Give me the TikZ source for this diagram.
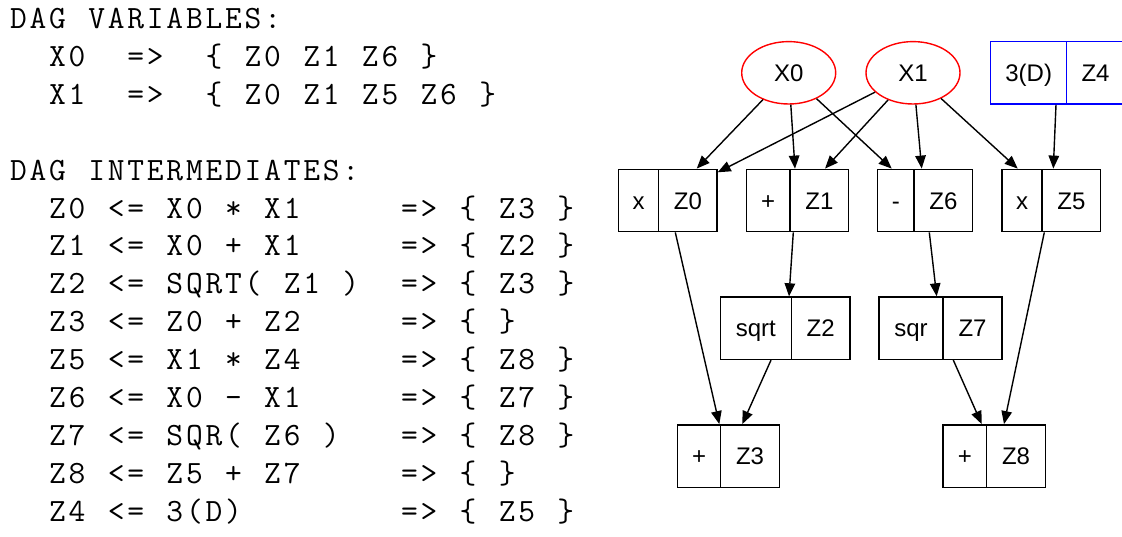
\documentclass[tikz,border=0pt]{standalone}
\usepackage{fontspec}
\newfontfamily\dagfont{Liberation Sans}
\usetikzlibrary{arrows.meta,shapes.geometric}

\ExplSyntaxOn
\dim_new:N \l_myttpitch_dim
\dim_set:Nn \l_myttpitch_dim {19.55pt}
\NewDocumentCommand \ttline { m }
  {
    \str_map_inline:nn {#1}
      {
        \str_if_eq:nnTF {##1} {|}
          { \hspace*{\l_myttpitch_dim} }
          { \makebox[\l_myttpitch_dim][c]{##1} }
      }
  }
\ExplSyntaxOff

\begin{document}
\begin{tikzpicture}[x=1pt,y=-1pt,
  codeline/.style={anchor=base west, inner sep=0pt,
    font=\ttfamily\fontsize{32.5}{36}\selectfont},
  fld/.style={draw=black, line width=1.4pt, rectangle, inner sep=0pt,
    minimum height=62.4pt, text height=17.2pt, text depth=0pt,
    font=\dagfont\fontsize{24}{28}\selectfont},
  bluefld/.style={fld, draw=blue},
  varnode/.style={ellipse, draw=red, line width=1.4pt, inner sep=0pt,
    minimum width=94pt, minimum height=62.4pt, text height=17.2pt, text depth=0pt,
    font=\dagfont\fontsize{24}{28}\selectfont},
  edge/.style={line width=1.4pt, -{Triangle[length=13pt,width=10.5pt]}}
]
\useasboundingbox (0,0) rectangle (1122,537);

% ---- left listing ----
\node[codeline] (t0)  at (8.5, 28.3)  {\ttline{DAG|VARIABLES:}};
\node[codeline] (t1)  at (8.5, 66.25) {\ttline{||X0||=>||{|Z0|Z1|Z6|}}};
\node[codeline] (t2)  at (8.5, 104.2) {\ttline{||X1||=>||{|Z0|Z1|Z5|Z6|}}};
\node[codeline] (t4)  at (8.5, 180.1) {\ttline{DAG|INTERMEDIATES:}};
\node[codeline] (t5)  at (8.5, 218.05){\ttline{||Z0|<=|X0|*|X1|||||=>|{|Z3|}}};
\node[codeline] (t6)  at (8.5, 256.0) {\ttline{||Z1|<=|X0|+|X1|||||=>|{|Z2|}}};
\node[codeline] (t7)  at (8.5, 293.95){\ttline{||Z2|<=|SQRT(|Z1|)||=>|{|Z3|}}};
\node[codeline] (t8)  at (8.5, 331.9) {\ttline{||Z3|<=|Z0|+|Z2|||||=>|{|}}};
\node[codeline] (t9)  at (8.5, 369.85){\ttline{||Z5|<=|X1|*|Z4|||||=>|{|Z8|}}};
\node[codeline] (t10) at (8.5, 407.8) {\ttline{||Z6|<=|X0|-|X1|||||=>|{|Z7|}}};
\node[codeline] (t11) at (8.5, 445.75){\ttline{||Z7|<=|SQR(|Z6|)|||=>|{|Z8|}}};
\node[codeline] (t12) at (8.5, 483.7) {\ttline{||Z8|<=|Z5|+|Z7|||||=>|{|}}};
\node[codeline] (t13) at (8.5, 521.65){\ttline{||Z4|<=|3(D)||||||||=>|{|Z5|}}};

% ---- DAG ----
\node[varnode] (x0) at (788.7,72.8) {X0};
\node[varnode] (x1) at (913,72.8) {X1};
\node[bluefld, minimum width=76pt]   (z4op) at (1028.7,72.85) {3(D)};
\node[bluefld, minimum width=57.6pt] (z4)   at (1095.5,72.85) {Z4};

\node[fld, minimum width=40.4pt] (z0op) at (638.5,200.5) {x};
\node[fld, minimum width=58.3pt] (z0)   at (687.85,200.5) {Z0};
\node[fld, minimum width=43.7pt] (z1op) at (768.15,200.5) {+};
\node[fld, minimum width=58.7pt] (z1)   at (819.35,200.5) {Z1};
\node[fld, minimum width=36.3pt] (z6op) at (895.85,200.5) {-};
\node[fld, minimum width=58.7pt] (z6)   at (943.35,200.5) {Z6};
\node[fld, minimum width=40pt]   (z5op) at (1022,200.5) {x};
\node[fld, minimum width=58.7pt] (z5)   at (1071.35,200.5) {Z5};

\node[fld, minimum width=71pt]   (z2op) at (755.8,328.2) {sqrt};
\node[fld, minimum width=58.7pt] (z2)   at (820.65,328.2) {Z2};
\node[fld, minimum width=64pt]   (z7op) at (911,328.2) {sqr};
\node[fld, minimum width=59pt]   (z7)   at (972.5,328.2) {Z7};

\node[fld, minimum width=43.4pt] (z3op) at (699,456) {+};
\node[fld, minimum width=58.6pt] (z3)   at (750,456) {Z3};
\node[fld, minimum width=43.7pt] (z8op) at (964.85,456) {+};
\node[fld, minimum width=58.6pt] (z8)   at (1016,456) {Z8};

% ---- edges ----
\draw[edge] (x0) -- ([xshift=8.85pt]z0.north);
\draw[edge] (x0) -- ([xshift=-24.35pt]z1.north);
\draw[edge] (x0) -- ([xshift=-4.15pt]z6op.north);
\draw[edge] (x1) -- ([yshift=-3.7pt]z0.north east);
\draw[edge] (x1) -- ([xshift=5.65pt]z1.north);
\draw[edge] (x1) -- ([xshift=-21.65pt]z6.north);
\draw[edge] (x1) -- ([xshift=-4.3pt]z5op.north);
\draw[edge] ([xshift=27.3pt]z4op.south) -- ([xshift=-18.05pt]z5.north);

\draw[edge] ([xshift=-12.55pt]z0.south) -- ([xshift=-0.7pt]z3.north west);
\draw[edge] ([xshift=-26.05pt]z1.south) -- ([xshift=33.2pt]z2op.north);
\draw[edge] ([xshift=-14.05pt]z6.south) -- ([xshift=25.7pt]z7op.north);
\draw[edge] ([xshift=-27.05pt]z5.south) -- ([xshift=-12pt]z8.north);
\draw[edge] ([xshift=15.2pt]z2op.south) -- ([xshift=-7.7pt]z3.north);
\draw[edge] ([xshift=-19.2pt]z7.south) -- ([xshift=16.85pt]z8op.north);
\end{tikzpicture}
\end{document}
